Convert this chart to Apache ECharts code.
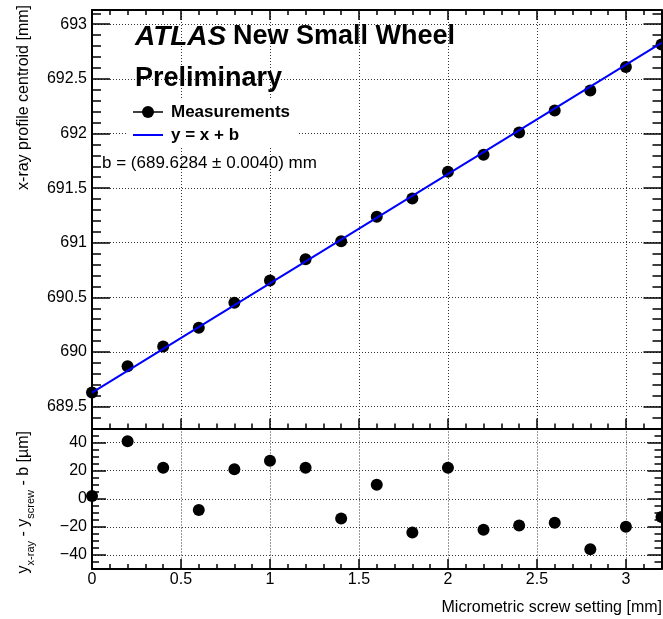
<!DOCTYPE html>
<html>
<head>
<meta charset="utf-8">
<script src="https://cdn.jsdelivr.net/npm/echarts@6/dist/echarts.min.js"></script>
<style>
html,body{margin:0;padding:0;background:#fff;}
#c{width:663px;height:619px;}
</style>
</head>
<body>
<div id="c"></div>
<script>
// ---- data ----
const screwSetting = [0, 0.2, 0.4, 0.6, 0.8, 1.0, 1.2, 1.4, 1.6, 1.8, 2.0, 2.2, 2.4, 2.6, 2.8, 3.0, 3.2];
const xrayCentroid = [689.630, 689.869, 690.050, 690.221, 690.450, 690.655, 690.850, 691.014, 691.238, 691.405, 691.650, 691.806, 692.009, 692.211, 692.393, 692.608, 692.815];
const residualsUm = [2, 41, 22, -8, 21, 27, 22, -14, 10, -24, 22, -22, -19, -17, -36, -20, -13];
const fitX = [0, 3.2];
const fitY = [689.6284, 692.8284];
const xTickLabels = ['0', '0.5', '1', '1.5', '2', '2.5', '3'];

const FONT = "'Liberation Sans', Arial, Helvetica, sans-serif";
const chart = echarts.init(document.getElementById('c'));

const gridLine = {show: true, lineStyle: {color: '#333', width: 1, type: [1, 2]}};
const axLine = {show: true, onZero: false, lineStyle: {color: '#000', width: 2}};
const noLine = {show: false, onZero: false};

function fmtMult(step) {
  return function (v) {
    const k = v / step;
    if (Math.abs(k - Math.round(k)) > 1e-6) return '';
    return String(+(+v).toFixed(4)).replace('-', '\u2212');
  };
}

function xMajor(grid, pos, len, labels, split) {
  return {
    type: 'value', gridIndex: grid, position: pos, min: 0, max: 3.2,
    minInterval: 0.5, maxInterval: 0.5, splitNumber: 6,
    axisLine: axLine,
    axisTick: {show: true, inside: true, length: len, lineStyle: {color: '#000', width: 1.5}},
    axisLabel: labels ? {show: true, margin: 3, fontSize: 16, fontFamily: FONT, color: '#000',
      formatter: fmtMult(0.5), showMaxLabel: false} : {show: false},
    splitLine: split ? gridLine : {show: false}
  };
}
function xMinor(grid, pos, len) {
  return {
    type: 'value', gridIndex: grid, position: pos, min: 0, max: 3.2, interval: 0.1,
    axisLine: noLine,
    axisTick: {show: true, inside: true, length: len, lineStyle: {color: '#000', width: 1.5}},
    axisLabel: {show: false}, splitLine: {show: false}
  };
}
function yMajor(grid, pos, mn, mx, step, len, labels, split) {
  return {
    type: 'value', gridIndex: grid, position: pos, min: mn, max: mx,
    minInterval: step, maxInterval: step, splitNumber: Math.round((mx - mn) / step),
    axisLine: axLine,
    axisTick: {show: true, inside: true, length: len, lineStyle: {color: '#000', width: 1.5}},
    axisLabel: labels ? {show: true, margin: 5, fontSize: 16, fontFamily: FONT, color: '#000',
      formatter: fmtMult(step), showMinLabel: false, showMaxLabel: false} : {show: false},
    splitLine: split ? gridLine : {show: false}
  };
}
function yMinor(grid, pos, mn, mx, step, len) {
  return {
    type: 'value', gridIndex: grid, position: pos, min: mn, max: mx, interval: step,
    axisLine: noLine,
    axisTick: {show: true, inside: true, length: len, lineStyle: {color: '#000', width: 1.5}},
    axisLabel: {show: false}, splitLine: {show: false}
  };
}

const option = {
  backgroundColor: '#fff',
  animation: false,
  grid: [
    {left: 92, right: 1.5, top: 10, bottom: 190.5},
    {left: 92, right: 1.5, top: 428.5, bottom: 50}
  ],
  xAxis: [
    xMajor(0, 'bottom', 10, false, true),
    xMinor(0, 'bottom', 5),
    xMajor(0, 'top', 10, false, false),
    xMinor(0, 'top', 5),
    xMajor(1, 'bottom', 10, true, true),
    xMinor(1, 'bottom', 5)
  ],
  yAxis: [
    yMajor(0, 'left', 689.3, 693.13, 0.5, 18, true, true),
    yMinor(0, 'left', 689.3, 693.13, 0.1, 9),
    yMajor(0, 'right', 689.3, 693.13, 0.5, 18, false, false),
    yMinor(0, 'right', 689.3, 693.13, 0.1, 9),
    yMajor(1, 'left', -50, 50, 20, 14, true, true),
    yMinor(1, 'left', -50, 50, 5, 7),
    yMajor(1, 'right', -50, 50, 20, 14, false, false),
    yMinor(1, 'right', -50, 50, 5, 7)
  ],
  series: [
    {
      type: 'scatter', name: 'Measurements', xAxisIndex: 0, yAxisIndex: 0,
      symbol: 'circle', symbolSize: 12, itemStyle: {color: '#000', opacity: 1}, z: 3,
      data: screwSetting.map((x, i) => [x, xrayCentroid[i]])
    },
    {
      type: 'line', name: 'y = x + b', xAxisIndex: 0, yAxisIndex: 0,
      symbol: 'none', lineStyle: {color: '#0000ff', width: 2}, z: 4,
      data: fitX.map((x, i) => [x, fitY[i]])
    },
    {
      type: 'scatter', name: 'Residuals', xAxisIndex: 4, yAxisIndex: 4,
      symbol: 'circle', symbolSize: 12, itemStyle: {color: '#000', opacity: 1}, z: 3,
      data: screwSetting.map((x, i) => [x, residualsUm[i]])
    }
  ],
  graphic: [
    {type: 'rect', z: 9, shape: {x: 128, y: 99, width: 170, height: 48}, style: {fill: '#fff'}},
    {type: 'text', x: 135, y: 37, z: 10, style: {
      text: '{i|ATLAS}  {b|New Small Wheel}', verticalAlign: 'middle', align: 'left',
      rich: {
        i: {fontSize: 28, fontWeight: 'bold', fontStyle: 'italic', fontFamily: FONT, fill: '#000'},
        b: {fontSize: 27, fontWeight: 'bold', fontFamily: FONT, fill: '#000'}
      }}},
    {type: 'text', x: 135, y: 79, z: 10, style: {
      text: 'Preliminary', fontSize: 27, fontWeight: 'bold', fontFamily: FONT, fill: '#000',
      verticalAlign: 'middle', align: 'left'}},
    {type: 'line', z: 10, shape: {x1: 133, y1: 112, x2: 163, y2: 112}, style: {stroke: '#000', lineWidth: 1.5}},
    {type: 'circle', z: 11, shape: {cx: 148, cy: 112, r: 6}, style: {fill: '#000'}},
    {type: 'text', x: 171, y: 112, z: 10, style: {
      text: 'Measurements', fontSize: 17, fontWeight: 'bold', fontFamily: FONT, fill: '#000',
      verticalAlign: 'middle', align: 'left'}},
    {type: 'line', z: 10, shape: {x1: 133, y1: 135, x2: 163, y2: 135}, style: {stroke: '#0000ff', lineWidth: 2}},
    {type: 'text', x: 171, y: 135, z: 10, style: {
      text: 'y = x + b', fontSize: 17, fontWeight: 'bold', fontFamily: FONT, fill: '#000',
      verticalAlign: 'middle', align: 'left'}},
    {type: 'text', x: 102, y: 163, z: 10, style: {
      text: 'b = (689.6284 \u00b1 0.0040) mm', fontSize: 17, fontFamily: FONT, fill: '#000',
      verticalAlign: 'middle', align: 'left'}},
    {type: 'text', x: 24, y: 5, rotation: Math.PI / 2, z: 10, style: {
      text: 'x-ray profile centroid [mm]', fontSize: 16, fontFamily: FONT, fill: '#000',
      verticalAlign: 'middle', align: 'right'}},
    {type: 'text', x: 24, y: 431, rotation: Math.PI / 2, z: 10, style: {
      text: '{a|y}{s|x-ray}{a| - y}{s|screw}{a| - b [\u00b5m]}', align: 'right', verticalAlign: 'middle',
      rich: {
        a: {fontSize: 16, fontFamily: FONT, fill: '#000', lineHeight: 24, verticalAlign: 'middle'},
        s: {fontSize: 11, fontFamily: FONT, fill: '#000', lineHeight: 11, verticalAlign: 'bottom'}
      }}},
    {type: 'text', x: 662, y: 608, z: 10, style: {
      text: 'Micrometric screw setting [mm]', fontSize: 16, fontFamily: FONT, fill: '#000',
      verticalAlign: 'middle', align: 'right'}}
  ]
};
chart.setOption(option);
</script>
</body>
</html>
